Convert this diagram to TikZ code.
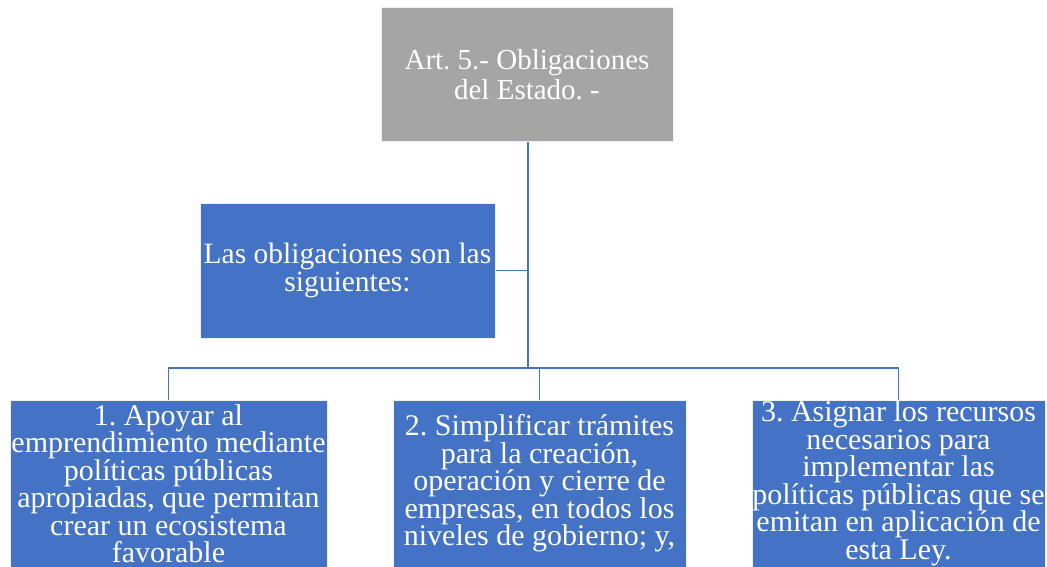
\documentclass[tikz,border=0pt]{standalone}
\usepackage{fontspec}
\setmainfont{Liberation Serif}
\definecolor{boxblue}{HTML}{4472C4}
\definecolor{boxgray}{HTML}{A5A5A5}
\definecolor{linkblue}{HTML}{4472C4}
\tikzset{
  box/.style={rectangle, draw=white!88!gray, line width=1pt, text=white, align=center, inner sep=0pt},
  graybox/.style={box, fill=boxgray, minimum width=292pt, minimum height=134pt,
     font=\rmfamily\fontsize{29}{30}\selectfont},
  bluebox/.style={box, fill=boxblue, minimum width=295pt, minimum height=135pt,
     font=\rmfamily\fontsize{29.5}{28}\selectfont},
  childbox/.style={box, fill=boxblue, minimum height=167pt,
     font=\rmfamily\fontsize{30}{27.5}\selectfont},
  conn/.style={draw=linkblue, line width=1.5pt}
}
\frenchspacing
\begin{document}
\begin{tikzpicture}[x=1pt,y=-1pt]
\useasboundingbox (0,0) rectangle (1047,567);
\fill[white] (0,0) rectangle (1047,567);
\node[graybox] (top) at (527,75) {Art. 5.- Obligaciones\\del Estado. -};
\node[bluebox] (mid) at (347.5,270.5) {Las obligaciones son las\\siguientes:};
\node[childbox, minimum width=317pt] (c1) at (168.5,483.5)
  {1. Apoyar al\\emprendimiento mediante\\políticas públicas\\apropiadas, que permitan\\crear un ecosistema\\favorable};
\node[childbox, minimum width=293pt] (c2) at (539.5,483.5)
  {2. Simplificar trámites\\para la creación,\\operación y cierre de\\empresas, en todos los\\niveles de gobierno; y,};
\node[childbox, minimum width=293pt] (c3) at (898.5,483.5)
  {3. Asignar los recursos\\necesarios para\\implementar las\\políticas públicas que se\\emitan en aplicación de\\esta Ley.};
\coordinate (j) at (528,368);
\draw[conn] (top.south -| j) -- (j);
\draw[conn] (mid.east) -- (mid.east -| j);
\draw[conn] (c1.north) -- (c1.north |- j) -- (c3.north |- j) -- (c3.north);
\draw[conn] (c2.north) -- (c2.north |- j);
\end{tikzpicture}
\end{document}
